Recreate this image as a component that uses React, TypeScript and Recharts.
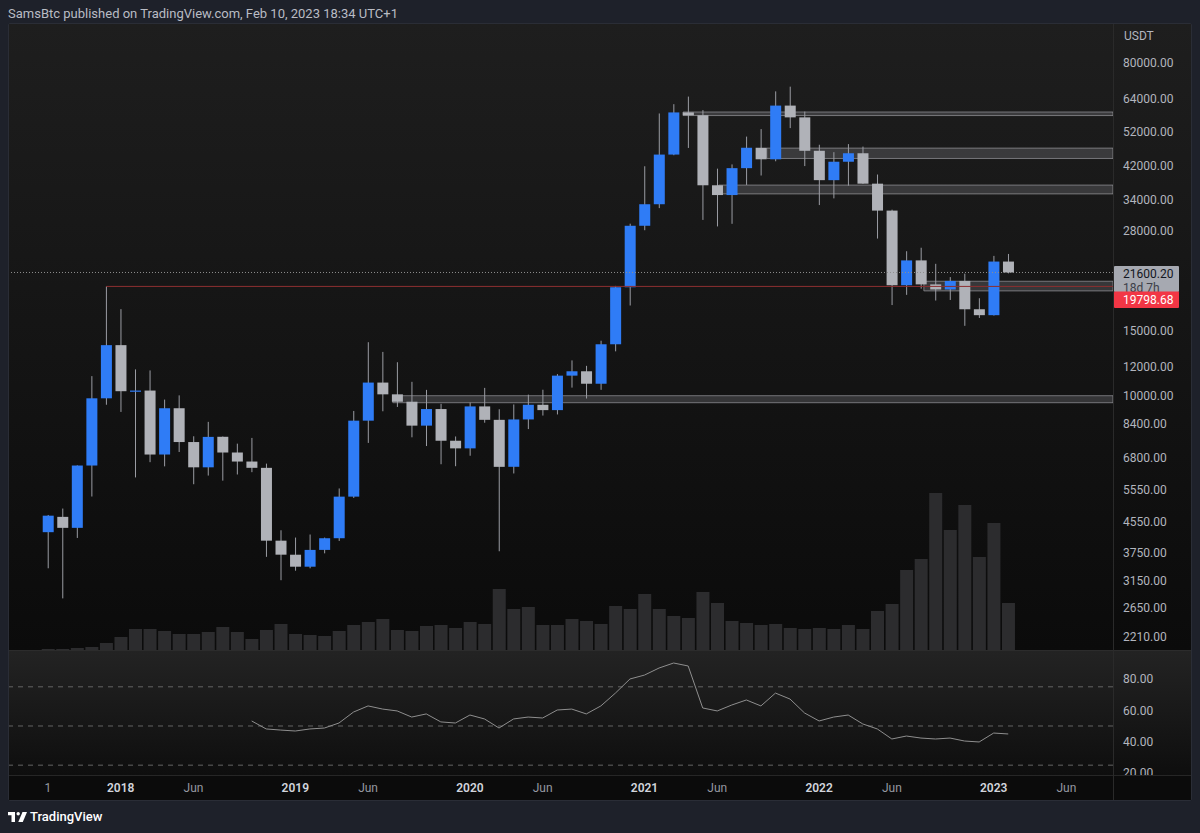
import React from 'react';
import { ComposedChart, Bar, Line, XAxis, YAxis, ReferenceLine, ReferenceArea } from 'recharts';

// ---------- data ----------
const months = [
  'Aug 2017','Sep 2017','Oct 2017','Nov 2017','Dec 2017',
  'Jan 2018','Feb 2018','Mar 2018','Apr 2018','May 2018','Jun 2018','Jul 2018','Aug 2018','Sep 2018','Oct 2018','Nov 2018','Dec 2018',
  'Jan 2019','Feb 2019','Mar 2019','Apr 2019','May 2019','Jun 2019','Jul 2019','Aug 2019','Sep 2019','Oct 2019','Nov 2019','Dec 2019',
  'Jan 2020','Feb 2020','Mar 2020','Apr 2020','May 2020','Jun 2020','Jul 2020','Aug 2020','Sep 2020','Oct 2020','Nov 2020','Dec 2020',
  'Jan 2021','Feb 2021','Mar 2021','Apr 2021','May 2021','Jun 2021','Jul 2021','Aug 2021','Sep 2021','Oct 2021','Nov 2021','Dec 2021',
  'Jan 2022','Feb 2022','Mar 2022','Apr 2022','May 2022','Jun 2022','Jul 2022','Aug 2022','Sep 2022','Oct 2022','Nov 2022','Dec 2022',
  'Jan 2023','Feb 2023',
];

const opens = [
  4261, 4689, 4378, 6463, 9838,
  13716, 10285, 10326, 6923, 9246, 7485, 6391, 7735, 7011, 6626, 6370, 4041,
  3701, 3434, 3814, 4103, 5321, 8555, 10854, 10085, 9630, 8293, 9199, 7546,
  7195, 9352, 8599, 6412, 8620, 9448, 9138, 11335, 11649, 10776, 13791, 19695,
  28923, 33092, 45134, 58739, 57697, 37253, 35045, 41462, 47100, 43820, 61300, 56950,
  46216, 38466, 43160, 45510, 37631, 31801, 19942, 23296, 20048, 19423, 20490, 17165,
  16541, 23125,
];
const highs = [
  4745, 4939, 6470, 11300, 19798.68,
  17176, 11786, 11710, 9759, 10020, 7760, 8491, 7750, 7410, 7680, 6540, 4312,
  4120, 4199, 4120, 5600, 9090, 13970, 13147, 12325, 10905, 10370, 9505, 7750,
  9578, 10500, 9188, 9467, 10067, 10380, 11444, 12468, 12050, 14100, 19863, 29300,
  41950, 58352, 61844, 64854, 59600, 41330, 42448, 50500, 52920, 67000, 69000, 59053,
  47990, 45821, 48189, 47444, 39845, 31986, 24668, 25211, 22799, 20988, 21446, 18387,
  23960, 24250,
];
const lows = [
  3400, 2817, 4110, 5325, 9450,
  9035, 6000, 6600, 6430, 7032, 5750, 6070, 5880, 6111, 6200, 3652, 3156,
  3349, 3400, 3733, 4034, 5278, 7444, 9071, 9320, 7710, 7300, 6515, 6435,
  6871, 8445, 3782, 6150, 8117, 8833, 8893, 10518, 9825, 10374, 13195, 17572,
  28130, 32296, 44950, 47044, 30000, 28805, 29278, 37332, 39600, 43283, 53256, 42000,
  32917, 34322, 37155, 37578, 26700, 17622, 18781, 19520, 18125, 18190, 15476, 16256,
  16499, 21480,
];
const closes = [
  4724, 4378, 6463, 9838, 13716,
  10285, 10326, 6923, 9246, 7485, 6391, 7730, 7011, 6626, 6371, 4041, 3702,
  3434, 3814, 4103, 5321, 8555, 10854, 10085, 9630, 8293, 9199, 7546, 7195,
  9352, 8599, 6410, 8620, 9448, 9138, 11335, 11649, 10776, 13791, 19695, 28923,
  33092, 45135, 58740, 57694, 37253, 35045, 41462, 47100, 43824, 61300, 56950, 46216,
  38466, 43160, 45510, 37630, 31801, 19942, 23293, 20050, 19422, 20490, 17163, 16542,
  23125, 21600.2,
];
const volumes = [
  10, 10, 20, 30, 70,
  130, 210, 210, 190, 160, 160, 180, 230, 180, 110, 200, 260,
  160, 150, 140, 190, 250, 280, 310, 200, 190, 240, 250, 220,
  280, 260, 610, 410, 430, 250, 250, 310, 290, 260, 440, 410,
  560, 410, 340, 320, 580, 470, 290, 270, 250, 260, 220, 210,
  220, 210, 250, 210, 390, 460, 800, 910, 1570, 1200, 1450, 930,
  1270, 470,
];
const rsiValues: (number | null)[] = [
  null, null, null, null, null,
  null, null, null, null, null, null, null, null, null, 53.2, 48.1, 47.4,
  46.8, 48.1, 48.7, 51.9, 58.9, 62.8, 60.8, 59.6, 55.7, 57.7, 52.6, 51.9,
  57.0, 54.5, 48.7, 54.5, 55.7, 55.1, 60.2, 60.8, 57.7, 62.8, 71.0, 80.0,
  82.5, 87.0, 90.2, 88.3, 61.5, 59.6, 63.4, 66.6, 62.8, 71.0, 67.2, 58.3,
  53.2, 55.7, 57.0, 51.3, 48.1, 41.7, 43.6, 42.3, 41.7, 42.3, 40.4, 39.8,
  45.5, 44.9,
];

const priceTicks = [80000, 64000, 52000, 42000, 34000, 28000, 15000, 12000, 10000, 8400, 6800, 5550, 4550, 3750, 3150, 2650, 2210];
const rsiTicks = [20, 40, 60, 80];
const rsiBands = [75, 50, 25];
const timeTicks = [0, 5, 10, 17, 22, 29, 34, 41, 46, 53, 58, 65, 70];
const timeLabels = ['1', '2018', 'Jun', '2019', 'Jun', '2020', 'Jun', '2021', 'Jun', '2022', 'Jun', '2023', 'Jun'];

const zoneStarts = [43.65, 49.4, 46.1, 60.2, 23.7];
const zoneLows = [57600, 44050, 35300, 19250, 9570];
const zoneHighs = [58900, 47000, 37300, 20450, 10000];

const lastPrice = 21600.2;
const countdown = '18d 7h';
const athLevel = 19798.68;
const athIndex = 4;

// ---------- layout constants ----------
const X_DOMAIN: [number, number] = [-2.68, 73.2];
const PRICE_DOMAIN: [number, number] = [2040.3, 102082];
const VOL_DOMAIN: [number, number] = [0, 6260];
const RSI_DOMAIN: [number, number] = [18.72, 98.5];

const FONT = 'Roboto, "Noto Sans", sans-serif';
const BLUE = '#2f7cf6';
const GRAY = '#b0b2b8';
const WICK = '#9a9ca3';
const AXIS_TEXT = '#b2b5be';

const data = months.map((m, i) => ({
  i,
  month: m,
  open: opens[i],
  high: highs[i],
  low: lows[i],
  close: closes[i],
  range: [lows[i], highs[i]],
  vol: volumes[i],
  rsi: rsiValues[i],
}));

const Candle = (props: any) => {
  const { x, y, width, height, payload } = props;
  if (x == null || y == null || !payload) return null;
  const { open, close, high, low } = payload;
  const cx = x + width / 2;
  const lh = Math.log(high);
  const ll = Math.log(low);
  const span = lh - ll || 1;
  const py = (p: number) => y + (height * (lh - Math.log(p))) / span;
  const up = close >= open;
  const top = py(Math.max(open, close));
  const bot = py(Math.min(open, close));
  const bodyH = Math.max(1.2, bot - top);
  return (
    <g>
      <line x1={cx} x2={cx} y1={y} y2={y + height} stroke={WICK} strokeWidth={1} />
      <rect x={cx - width / 2} y={top} width={width} height={bodyH} fill={up ? BLUE : GRAY} />
    </g>
  );
};

const LastTag = (props: any) => {
  const vb = props.viewBox;
  if (!vb) return null;
  const x = vb.x + vb.width;
  const y = vb.y;
  return (
    <g fontFamily={FONT} fontSize={12}>
      <rect x={x + 1} y={y - 6.5} width={65} height={26} rx={1} fill="#a6a9b1" />
      <text x={x + 10} y={y + 1.5} dy="0.355em" fill="#131722">{lastPrice.toFixed(2)}</text>
      <text x={x + 10} y={y + 15} dy="0.355em" fill="#3d4049">{countdown}</text>
    </g>
  );
};

const AthTag = (props: any) => {
  const vb = props.viewBox;
  if (!vb) return null;
  const x = vb.x + vb.width;
  const y = vb.y;
  return (
    <g fontFamily={FONT} fontSize={12}>
      <rect x={x + 1} y={y + 5} width={65} height={16.5} rx={1} fill="#f23645" />
      <text x={x + 10} y={y + 13.5} dy="0.355em" fill="#ffffff">{athLevel.toFixed(2)}</text>
    </g>
  );
};

const TimeTick = (p: any) => {
  const idx = timeTicks.indexOf(p.payload.value);
  if (idx < 0) return null;
  const label = timeLabels[idx];
  const isYear = /^\d{4}$/.test(label);
  return (
    <text
      x={p.x}
      y={17}
      textAnchor="middle"
      fontFamily={FONT}
      fontSize={12}
      fontWeight={isYear ? 600 : 400}
      fill={isYear ? '#d1d4dc' : '#9598a1'}
    >
      {label}
    </text>
  );
};

const abs = (left: number, top: number, width: number, height: number, extra: React.CSSProperties = {}): React.CSSProperties => ({
  position: 'absolute', left, top, width, height, ...extra,
});

export default function App() {
  return (
    <div style={{ position: 'absolute', left: 0, top: 0, width: 1200, height: 833, background: '#1e212a', overflow: 'hidden', fontFamily: FONT }}>
      <div style={{ position: 'absolute', left: 8, top: 5, fontSize: 13, lineHeight: '18px', color: '#b9bcc4', whiteSpace: 'nowrap' }}>
        SamsBtc published on TradingView.com, Feb 10, 2023 18:34 UTC+1
      </div>

      {/* panel */}
      <div style={abs(8, 23, 1184, 778, { background: '#0b0b0b', border: '1px solid #2a2d36', boxSizing: 'border-box', borderRadius: 2 })} />
      <div style={abs(9, 24, 1182, 626, { background: 'linear-gradient(#1e1e1e, #0b0b0b)' })} />
      <div style={abs(9, 650, 1182, 125, { background: 'linear-gradient(#232323, #0e0e0e)', borderTop: '1px solid #2c2c2c', boxSizing: 'border-box' })} />

      {/* main price pane */}
      <div style={abs(9, 24, 1183, 626)}>
        <ComposedChart width={1183} height={626} data={data} margin={{ top: 0, right: 0, bottom: 0, left: 0 }}>
          <XAxis xAxisId="px" dataKey="i" type="number" domain={X_DOMAIN} allowDataOverflow hide />
          <XAxis xAxisId="vx" dataKey="i" type="number" domain={X_DOMAIN} allowDataOverflow hide />
          <YAxis
            yAxisId="price"
            orientation="right"
            scale="log"
            domain={PRICE_DOMAIN}
            allowDataOverflow
            ticks={priceTicks}
            interval={0}
            width={79}
            axisLine={false}
            tickLine={false}
            tickMargin={4}
            tick={{ fill: AXIS_TEXT, fontSize: 12, fontFamily: FONT }}
            tickFormatter={(v: number) => v.toFixed(2)}
          />
          <YAxis yAxisId="vol" domain={VOL_DOMAIN} allowDataOverflow hide />
          {zoneStarts.map((s, k) => (
            <ReferenceArea
              key={'z' + k}
              xAxisId="px"
              yAxisId="price"
              x1={s}
              x2={X_DOMAIN[1]}
              y1={zoneLows[k]}
              y2={zoneHighs[k]}
              fill="rgba(125,125,130,0.33)"
              fillOpacity={1}
              stroke="rgba(170,170,175,0.6)"
              strokeWidth={1}
              ifOverflow="hidden"
            />
          ))}
          <Bar xAxisId="vx" yAxisId="vol" dataKey="vol" barSize={13} fill="#2c2c2e" isAnimationActive={false} />
          <ReferenceLine
            xAxisId="px"
            yAxisId="price"
            y={lastPrice}
            stroke="#8e8e8e"
            strokeDasharray="1 2"
            strokeWidth={1}
            label={(p: any) => <LastTag viewBox={p.viewBox} />}
          />
          <ReferenceLine
            xAxisId="px"
            yAxisId="price"
            segment={[{ x: athIndex, y: athLevel }, { x: X_DOMAIN[1], y: athLevel }]}
            stroke="#8c2f30"
            strokeWidth={1}
            label={(p: any) => <AthTag viewBox={p.viewBox} />}
          />
          <Bar xAxisId="px" yAxisId="price" dataKey="range" barSize={11} shape={<Candle />} isAnimationActive={false} />
        </ComposedChart>
      </div>

      {/* RSI pane */}
      <div style={abs(9, 650, 1183, 125)}>
        <ComposedChart width={1183} height={125} data={data} margin={{ top: 0, right: 0, bottom: 0, left: 0 }}>
          <XAxis dataKey="i" type="number" domain={X_DOMAIN} allowDataOverflow hide />
          <YAxis
            orientation="right"
            domain={RSI_DOMAIN}
            allowDataOverflow
            ticks={rsiTicks}
            interval={0}
            width={79}
            axisLine={false}
            tickLine={false}
            tickMargin={4}
            tick={{ fill: AXIS_TEXT, fontSize: 12, fontFamily: FONT }}
            tickFormatter={(v: number) => v.toFixed(2)}
          />
          {rsiBands.map((b) => (
            <ReferenceLine key={'b' + b} y={b} stroke="#636363" strokeDasharray="5 5" strokeWidth={1} />
          ))}
          <Line dataKey="rsi" stroke="#8e8e8e" strokeWidth={1} dot={false} activeDot={false} connectNulls={false} isAnimationActive={false} />
        </ComposedChart>
      </div>

      {/* time axis */}
      <div style={abs(9, 775, 1182, 25, { background: '#0b0b0b', borderTop: '1px solid #262626', boxSizing: 'border-box' })} />
      <div style={abs(9, 775, 1183, 26)}>
        <ComposedChart width={1183} height={26} data={data} margin={{ top: 0, right: 79, bottom: 0, left: 0 }}>
          <XAxis
            dataKey="i"
            type="number"
            domain={X_DOMAIN}
            allowDataOverflow
            ticks={timeTicks}
            interval={0}
            height={24}
            axisLine={false}
            tickLine={false}
            tick={<TimeTick />}
          />
          <YAxis hide domain={RSI_DOMAIN} />
          <Line dataKey="rsi" stroke="none" dot={false} activeDot={false} isAnimationActive={false} />
        </ComposedChart>
      </div>

      {/* separators and axis header */}
      <div style={abs(1113, 24, 1, 776, { background: '#2a2a2a' })} />
      <div style={{ position: 'absolute', left: 1124, top: 29, fontSize: 12, color: AXIS_TEXT }}>USDT</div>

      {/* footer logo */}
      <svg style={{ position: 'absolute', left: 8, top: 812 }} width={20} height={10} viewBox="0 0 20 10">
        <path d="M0 0H7V10H3.5V3.2H0Z" fill="#ffffff" />
        <circle cx={10.2} cy={1.7} r={1.7} fill="#ffffff" />
        <path d="M14.5 0H19L14.8 10H10.3Z" fill="#ffffff" />
      </svg>
      <div style={{ position: 'absolute', left: 30, top: 808, fontSize: 13, fontWeight: 500, color: '#ffffff', lineHeight: '18px' }}>TradingView</div>
    </div>
  );
}
